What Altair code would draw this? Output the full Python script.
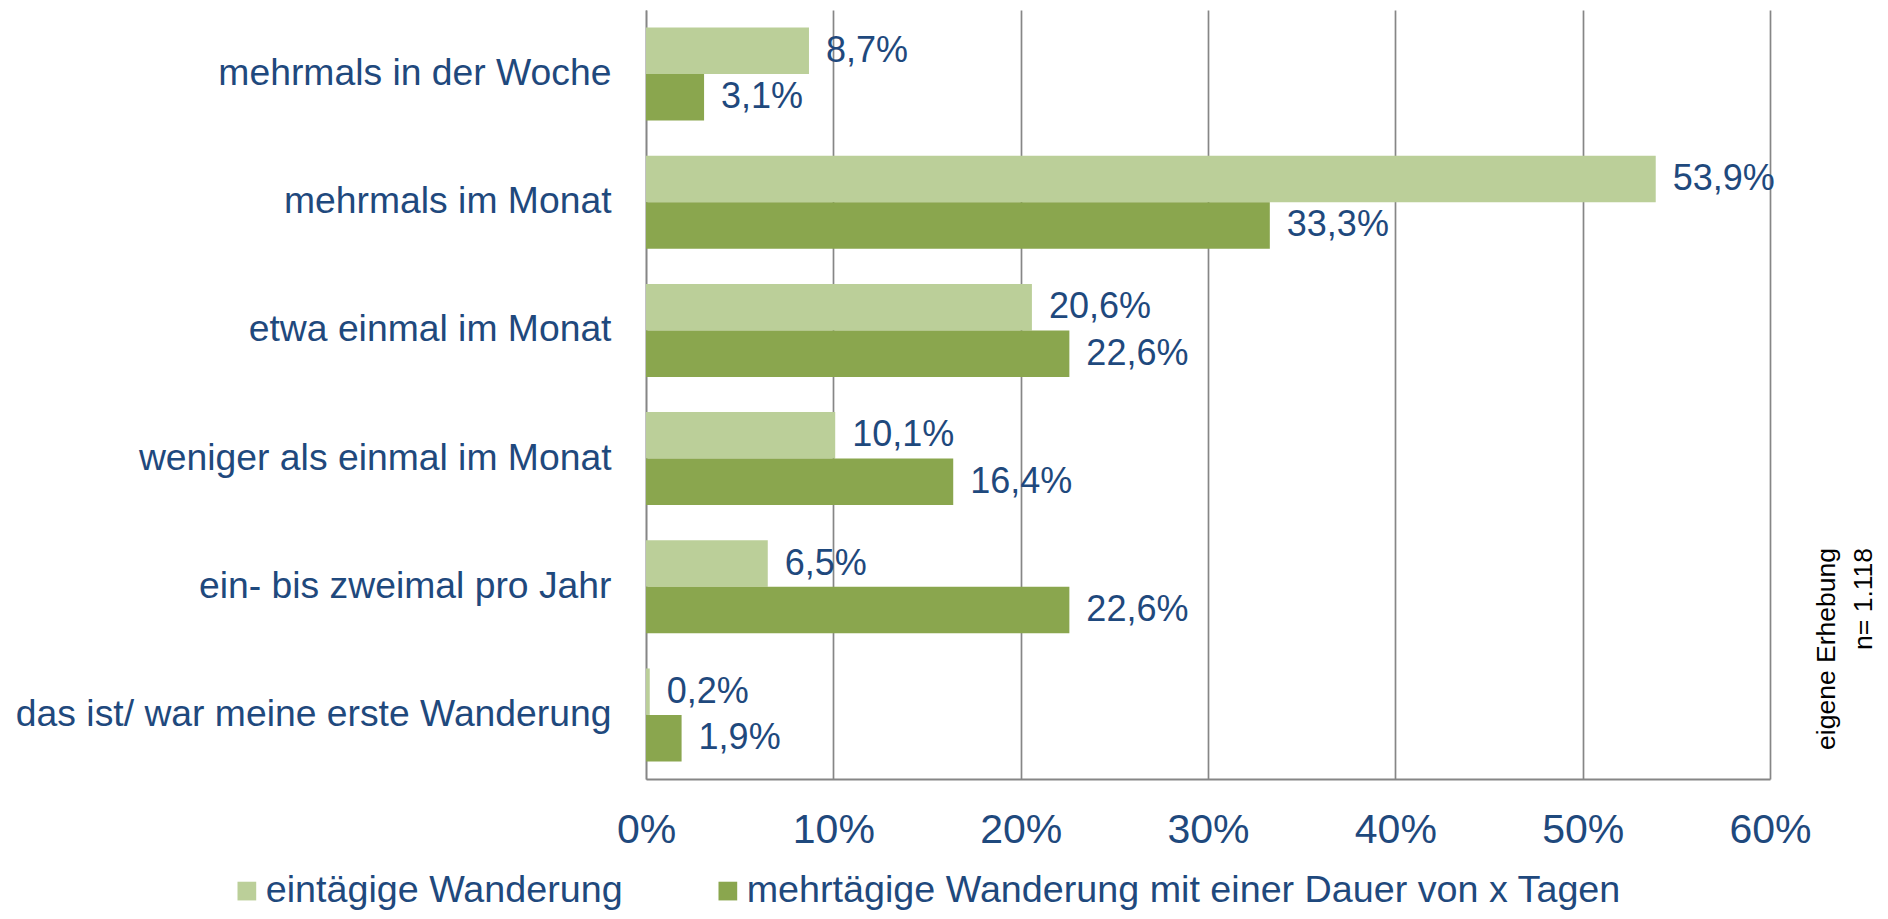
import altair as alt
import pandas as pd

categories = [
    "mehrmals in der Woche",
    "mehrmals im Monat",
    "etwa einmal im Monat",
    "weniger als einmal im Monat",
    "ein- bis zweimal pro Jahr",
    "das ist/ war meine erste Wanderung",
]
series_names = ["eintägige Wanderung", "mehrtägige Wanderung mit einer Dauer von x Tagen"]
eintaegig = [8.7, 53.9, 20.6, 10.1, 6.5, 0.2]
mehrtaegig = [3.1, 33.3, 22.6, 16.4, 22.6, 1.9]
x_ticks = [0, 10, 20, 30, 40, 50, 60]
note_text = "eigene Erhebung\nn= 1.118"

colors = ["#BBCF99", "#8AA64E"]
blue = "#1F497D"
grey = "#868686"
font = "Liberation Sans"

rows = []
for i, c in enumerate(categories):
    for s, vals in zip(series_names, [eintaegig, mehrtaegig]):
        v = vals[i]
        rows.append({"cat": c, "series": s, "value": v,
                     "label": f"{v:.1f}".replace(".", ",") + "%"})
df = pd.DataFrame(rows)

y_enc = alt.Y("cat:N", sort=categories,
              scale=alt.Scale(paddingInner=0.275, paddingOuter=0.1375),
              axis=alt.Axis(title=None, labelFont=font, labelFontSize=37.3,
                            labelColor=blue, ticks=False, tickSize=0,
                            labelPadding=35, domainColor=grey, domainWidth=1.5,
                            labelLimit=800))
yoff = alt.YOffset("series:N", sort=series_names,
                   scale=alt.Scale(paddingInner=0, paddingOuter=0))
x_enc = alt.X("value:Q",
              scale=alt.Scale(domain=[0, 60], nice=False),
              axis=alt.Axis(title=None, values=x_ticks, labelExpr="datum.value + '%'",
                            labelFont=font, labelFontSize=41, labelColor=blue,
                            labelFlush=False, labelOverlap=False,
                            ticks=False, tickSize=0, labelPadding=31,
                            grid=True, gridColor=grey, gridWidth=1.7,
                            domainColor=grey, domainWidth=2))

bars = alt.Chart(df).mark_bar().encode(
    x=x_enc,
    y=y_enc,
    yOffset=yoff,
    color=alt.Color("series:N", sort=series_names,
                    scale=alt.Scale(domain=series_names, range=colors),
                    legend=alt.Legend(title=None, orient="none", direction="horizontal",
                                      legendX=-418, legendY=862, padding=0,
                                      symbolType="square", symbolSize=350,
                                      symbolStrokeWidth=0, labelFont=font,
                                      labelFontSize=37.7, labelColor=blue,
                                      labelOffset=0, columnPadding=86,
                                      labelLimit=1000)),
)

labels = alt.Chart(df).mark_text(align="left", baseline="middle", dx=17,
                                 font=font, fontSize=36, color=blue).encode(
    x="value:Q",
    y=alt.Y("cat:N", sort=categories),
    yOffset=yoff,
    text="label:N",
)

note = alt.Chart(pd.DataFrame({"t": [note_text]})).mark_text(
    angle=270, align="right", baseline="alphabetic", lineBreak="\n",
    lineHeight=37, font=font, fontSize=26.5, color="#000000").encode(
    x=alt.value(1189), y=alt.value(538), text="t:N")

chart = alt.layer(bars, labels, note).properties(
    width=1124, height=769,
    autosize=alt.AutoSizeParams(type="none"),
    padding={"left": 638, "top": 2, "right": 110, "bottom": 132},
).configure_view(strokeWidth=0)

chart.save("out.html", embed_options={"renderer": "svg", "actions": False})
